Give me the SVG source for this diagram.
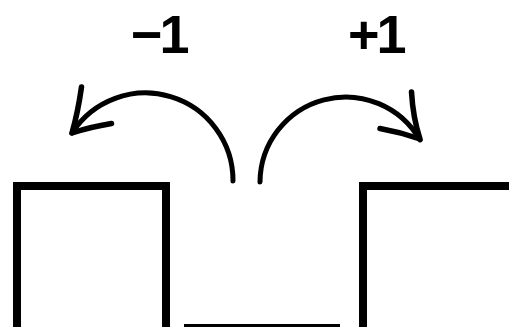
<svg xmlns="http://www.w3.org/2000/svg" width="509" height="327" viewBox="0 0 509 327">
  <style>
    .box { fill: none; stroke: #000; stroke-width: 8; stroke-linejoin: miter; }
    .conn { fill: none; stroke: #000; stroke-width: 5; stroke-linecap: round; stroke-linejoin: round; }
    .head { fill: none; stroke: #000; stroke-width: 5.5; stroke-linecap: round; stroke-linejoin: round; }
    .lbl { font-family: "Liberation Sans", Arial, sans-serif; font-weight: bold; font-size: 54px; fill: #000; letter-spacing: -3px; }
  </style>
  <rect width="509" height="327" fill="#fff"/>
  <g id="label-minus">
    <text class="lbl" x="131" y="53">−1</text>
  </g>
  <g id="label-plus">
    <text class="lbl" x="348" y="53">+1</text>
  </g>
  <g id="box-left">
    <path class="box" d="M17,332 V186 H166 V332"/>
  </g>
  <g id="box-right">
    <path class="box" d="M363,332 V186 H515"/>
  </g>
  <g id="slot">
    <rect x="184" y="324" width="156" height="6" fill="#000"/>
  </g>
  <g id="connectors">
    <path class="conn" d="M233,181 A87.5,87.5 0 0 0 72,133"/>
    <path class="head" d="M81.5,87 Q78,112 72,133 Q90,127 111.5,123.5"/>
    <path class="conn" d="M260,182 A85.7,85.7 0 0 1 420,140"/>
    <path class="head" d="M411.5,92 Q413,118 420,139 Q400,132 380,128.5"/>
  </g>
</svg>
